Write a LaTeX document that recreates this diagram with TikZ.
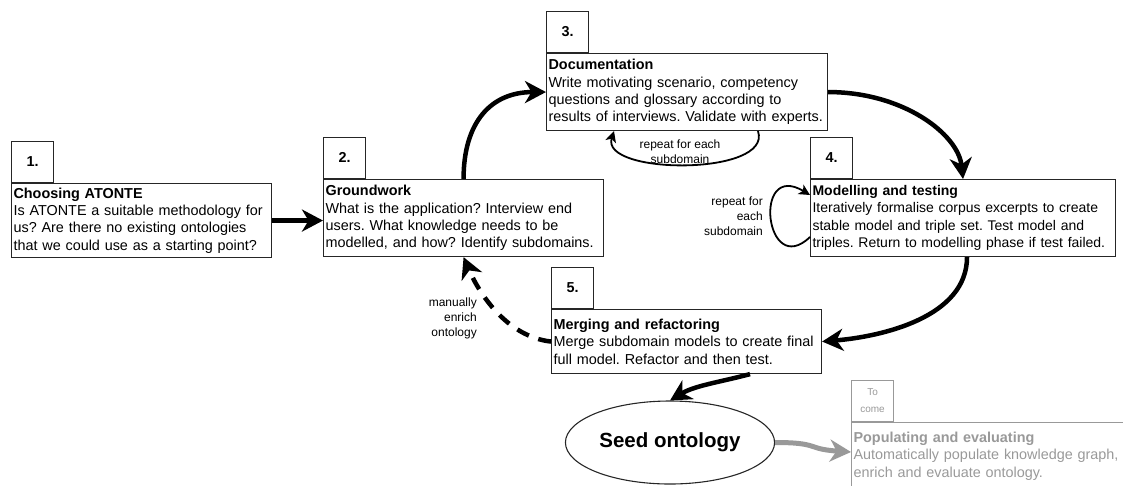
\documentclass[tikz,border=0pt]{standalone}
\usepackage{fontspec}
\setmainfont{Liberation Sans}
\usetikzlibrary{arrows.meta,shapes.geometric}
\definecolor{later}{HTML}{999999}
\frenchspacing
\hyphenpenalty=10000
\exhyphenpenalty=10000

\begin{document}
\begin{tikzpicture}[x=1pt,y=-1pt,
  phase/.style={draw=black!85, line width=1.1pt, rectangle, anchor=north west, align=left, inner xsep=2pt, inner ysep=0pt, font=\fontsize{14.4}{17.4}\selectfont},
  tab/.style={draw=black!85, line width=1.1pt, anchor=south west, minimum width=42pt, minimum height=41pt, inner sep=0pt, font=\fontsize{14.4}{17.4}\selectfont\bfseries},
  note/.style={inner sep=0pt, font=\fontsize{12}{14.8}\selectfont},
  flow/.style={line width=4.5pt, -{Stealth[length=21pt,width=22pt,inset=6.5pt]}},
  loop/.style={line width=1.8pt, -{Stealth[length=11pt,width=11pt,inset=3pt]}}]
\useasboundingbox (0,0) rectangle (1123,485);
\clip (0,0) rectangle (1123,485);
\node[phase, text width=256pt, minimum height=74pt] (choose) at (11,183) {\textbf{Choosing ATONTE}\\Is ATONTE a suitable methodology for\\us? Are there no existing ontologies\\that we could use as a starting point?};
\node[tab] (choosetab) at (choose.north west) {1.};
\node[phase, text width=276pt, minimum height=77pt] (ground) at (323,179) {\textbf{Groundwork}\\What is the application? Interview end\\users. What knowledge needs to be\\modelled, and how? Identify subdomains.};
\node[tab] (groundtab) at (ground.north west) {2.};
\node[phase, text width=277pt, minimum height=77pt] (doc) at (546,53) {\textbf{Documentation}\\Write motivating scenario, competency\\questions and glossary according to\\results of interviews. Validate with experts.};
\node[tab] (doctab) at (doc.north west) {3.};
\node[phase, text width=301pt, minimum height=77pt, font=\fontsize{14}{17.4}\selectfont] (model) at (810,179) {\textbf{Modelling and testing}\\Iteratively formalise corpus excerpts to create\\stable model and triple set. Test model and\\triples. Return to modelling phase if test failed.};
\node[tab] (modeltab) at (model.north west) {4.};
\node[phase, text width=266pt, minimum height=64pt] (merge) at (551,309) {\textbf{Merging and refactoring}\\Merge subdomain models to create final\\full model. Refactor and then test.};
\node[tab] (mergetab) at (merge.north west) {5.};
\node[draw=black!85, line width=1.1pt, ellipse, minimum width=167pt, minimum height=83pt, font=\fontsize{20.5}{24}\selectfont\bfseries] (seed) at (670,442.5) {Seed ontology};
\node[phase, draw=later, text=later, text width=268pt, inner ysep=9.5pt] (future) at (851,422) {\textbf{Populating and evaluating}\\Automatically populate knowledge graph,\\enrich and evaluate ontology.};
\node[tab, draw=later, text=later, align=center, font=\fontsize{10}{17}\selectfont] (futuretab) at (future.north west) {To\\come};
\draw[flow] (choose.east) -- (choose.east -| ground.west);
\draw[flow] (ground.north) .. controls +(0,-57) and +(-55,0) .. (doc.west);
\draw[flow] (doc.east) .. controls +(75,0) and +(-5,-45) .. (model.north);
\draw[flow] ([xshift=157pt]model.south west) .. controls +(0,60) and +(60,-5) .. (merge.east);
\draw[flow] ([xshift=199pt]merge.south west) .. controls +(-30,8) and +(25,-15) .. (seed.north);
\draw[flow, dash pattern=on 13pt off 10pt] (merge.west) .. controls +(-45,-5) and +(15,35) .. (ground.south);
\draw[flow, later, line width=5pt] (seed.east) .. controls +(45,0) and +(-45,-3) .. ([yshift=-30pt]future.north west);
\draw[loop] ([xshift=212pt]doc.south west) .. controls +(15,45) and +(-14,44) .. ([xshift=68pt]doc.south west);
\draw[loop] ([yshift=-58pt]model.north west) .. controls +(-45,43) and +(-58,-35) .. ([yshift=-16pt]model.north west);
\node[note, anchor=north, align=center] (doclabel) at (680,140) {repeat for each\\subdomain};
\node[note, anchor=north east, align=right] (modellabel) at (763,197) {repeat for\\each\\subdomain};
\node[note, anchor=north east, align=right] (enrichlabel) at (477,298) {manually\\enrich\\ontology};
\end{tikzpicture}
\end{document}
